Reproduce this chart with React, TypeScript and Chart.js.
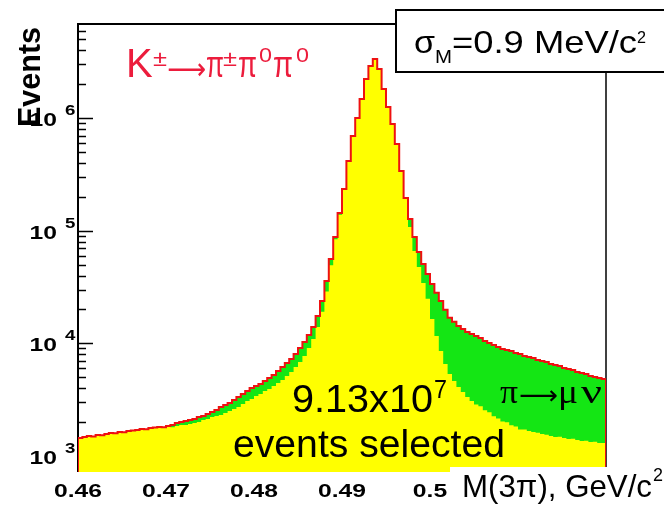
import React, { useEffect, useRef } from 'react';
import { Chart, registerables } from 'chart.js';

Chart.register(...registerables);

// ---- data ----
const binStart = 0.46;
const binWidth = 0.0005; // GeV/c^2 per bin

// total selected events (K -> 3pi incl. pi -> mu nu), per bin
const totalCounts = [
  1445, 1475, 1505, 1490, 1536, 1530, 1568, 1601, 1590, 1634,
  1620, 1668, 1680, 1702, 1737, 1725, 1773, 1790, 1810, 1800,
  1847, 1885, 1964, 2005, 2046, 2088, 2131, 2220, 2266, 2361,
  2460, 2562, 2724, 2838, 2957, 3144, 3343, 3554, 3779, 4018,
  4185, 4360, 4636, 4929, 5241, 5687, 6172, 6698, 7269, 8051,
  9103, 10290, 11880, 13980, 17520, 23800, 35840, 56200, 88100, 143900,
  235100, 417000, 695000, 1004000, 1481000, 2229000, 2908000, 3356000, 2735000, 1817000,
  1257000, 888000, 590000, 340000, 195600, 127300, 88100, 64800, 50700, 41300,
  33700, 28100, 23800, 19840, 16880, 15540, 14270, 13430, 12620, 12120,
  11640, 11170, 10500, 10080, 9679, 9290, 8918, 8738, 8560, 8217,
  8051, 7729, 7572, 7419, 7121, 6977, 6836, 6562, 6430, 6300,
  6047, 5925, 5805, 5573, 5460, 5349, 5135, 5031, 4929, 4829,
];

// K -> pi pi0 pi0 events without pion decay (yellow), per bin
const signalCounts = [
  1445, 1475, 1505, 1490, 1536, 1530, 1568, 1601, 1590, 1634,
  1620, 1668, 1680, 1702, 1737, 1725, 1773, 1790, 1810, 1800,
  1810, 1800, 1847, 1885, 1880, 1924, 1964, 2005, 2088, 2131,
  2220, 2266, 2314, 2410, 2510, 2615, 2724, 2897, 3080, 3209,
  3411, 3554, 3779, 3937, 4185, 4450, 4732, 5135, 5573, 6172,
  6836, 7729, 9103, 10940, 13980, 19040, 28900, 49500, 84000, 139000,
  232000, 415000, 695000, 1004000, 1481000, 2229000, 2908000, 3356000, 2735000, 1817000,
  1257000, 888000, 590000, 340000, 195600, 108100, 66200, 47700, 34400, 24850,
  16470, 11640, 8560, 6562, 5349, 4636, 4101, 3702, 3343, 3080,
  2870, 2760, 2540, 2440, 2250, 2150, 2020, 1990, 1870, 1830,
  1720, 1715, 1668, 1634, 1610, 1568, 1540, 1505, 1475, 1480,
  1445, 1416, 1420, 1387, 1359, 1365, 1331, 1335, 1304, 1300,
];

const xTickValues = [0.46, 0.47, 0.48, 0.49, 0.5, 0.51, 0.52];
const xTickLabels = ['0.46', '0.47', '0.48', '0.49', '0.5', '0.51', '0.52'];
const yDecadeExponents = [3, 4, 5, 6];
const yMin = 720;
const yMax = 6.86e6;
const xMin = 0.46;
const xMax = 0.52;

const SANS = '"Liberation Sans", Arial, Helvetica, sans-serif';
const SERIF = '"Liberation Serif", "Times New Roman", serif';
const ARROW = '"DejaVu Sans", sans-serif';

const font = (size: number, bold = false, family = SANS) => `${bold ? 'bold ' : ''}${size}px ${family}`;

// draw a text run at (x, baseline); optionally stretch it horizontally to a target width
function drawAt(
  ctx: CanvasRenderingContext2D,
  text: string,
  x: number,
  baseline: number,
  f: string,
  color: string,
  targetWidth?: number | null,
  fixedScale?: number,
) {
  ctx.save();
  ctx.font = f;
  const w = ctx.measureText(text).width;
  const sx = fixedScale ?? (targetWidth ? targetWidth / w : 1);
  ctx.translate(x, baseline);
  ctx.scale(sx, 1);
  ctx.fillStyle = color;
  ctx.textAlign = 'left';
  ctx.textBaseline = 'alphabetic';
  ctx.fillText(text, 0, 0);
  ctx.restore();
  return w * sx;
}

const framePlugin = {
  id: 'rootFrame',
  beforeDatasetsDraw(chart: any) {
    const ctx: CanvasRenderingContext2D = chart.ctx;
    const { left, right, top, bottom } = chart.chartArea;
    const ys = chart.scales.y;
    ctx.save();
    ctx.strokeStyle = '#000';
    ctx.lineWidth = 1.5;
    for (let k = 2; k <= 6; k++) {
      for (let m = 1; m <= 9; m++) {
        const v = m * Math.pow(10, k);
        if (v < yMin || v > yMax) continue;
        const py = Math.round(ys.getPixelForValue(v)) + 0.5;
        const len = m === 1 ? 15 : 8;
        ctx.beginPath();
        ctx.moveTo(left, py);
        ctx.lineTo(left + len, py);
        ctx.stroke();
      }
    }
    ctx.lineWidth = 2;
    ctx.beginPath();
    ctx.moveTo(left, bottom);
    ctx.lineTo(left, top);
    ctx.lineTo(right, top);
    ctx.stroke();
    ctx.lineWidth = 1.5;
    ctx.beginPath();
    ctx.moveTo(right, top);
    ctx.lineTo(right, bottom);
    ctx.stroke();
    ctx.restore();
  },
  afterDraw(chart: any) {
    const ctx: CanvasRenderingContext2D = chart.ctx;
    const xs = chart.scales.x;
    const ys = chart.scales.y;

    const labFont = font(18.5, true);
    ctx.save();
    ctx.font = labFont;
    const sxLab = 48 / ctx.measureText('0.46').width;
    ctx.restore();

    // x tick labels
    xTickValues.forEach((v, i) => {
      const px = xs.getPixelForValue(v);
      ctx.save();
      ctx.font = labFont;
      const w = ctx.measureText(xTickLabels[i]).width * sxLab;
      ctx.restore();
      drawAt(ctx, xTickLabels[i], px - w / 2, 497, labFont, '#000', null, sxLab);
    });

    // y tick labels 10^k
    yDecadeExponents.forEach((k) => {
      const py = ys.getPixelForValue(Math.pow(10, k));
      drawAt(ctx, '10', 29.5, py + 8, labFont, '#000', null, sxLab);
      drawAt(ctx, String(k), 65, py - 3, font(14, true), '#000', null, sxLab);
    });

    // y axis title
    ctx.save();
    ctx.translate(40, 77);
    ctx.rotate(-Math.PI / 2);
    drawAt(ctx, 'Events', -50, 0, font(31, true), '#000', 100);
    ctx.restore();

    // decay label
    const red = '#ec1c3c';
    drawAt(ctx, 'K', 126, 77, font(40), red);
    drawAt(ctx, '±', 153, 66, font(22), red, 14);
    drawAt(ctx, '⟶', 167, 79, font(30, false, ARROW), red, 39);
    drawAt(ctx, 'π', 206, 77, font(36), red, 18);
    drawAt(ctx, '±', 223, 66, font(22), red, 14);
    drawAt(ctx, 'π', 238, 77, font(36), red, 19);
    drawAt(ctx, '0', 259, 62, font(21), red, 13);
    drawAt(ctx, 'π', 273, 77, font(36), red, 20);
    drawAt(ctx, '0', 296, 62, font(21), red, 13);

    // sigma box
    ctx.save();
    ctx.fillStyle = '#fff';
    ctx.fillRect(396, 10, 280, 62);
    ctx.strokeStyle = '#000';
    ctx.lineWidth = 2;
    ctx.strokeRect(396, 10, 280, 62);
    ctx.restore();
    drawAt(ctx, 'σ', 414, 53, font(32), '#000', 21);
    drawAt(ctx, 'M', 435, 63, font(19), '#000', 17);
    drawAt(ctx, '=0.9 MeV/c', 452, 53, font(32), '#000', 185);
    drawAt(ctx, '2', 637, 43, font(17), '#000', 9);

    // statistics text
    const w9 = drawAt(ctx, '9.13x10', 292, 412, font(39), '#000', 141);
    drawAt(ctx, '7', 292 + w9 + 1, 398, font(25), '#000', 13);
    drawAt(ctx, 'events selected', 233, 457, font(39), '#000', 272);

    // pi -> mu nu label
    drawAt(ctx, 'π', 500, 403, font(33, false, SERIF), '#000', 18);
    drawAt(ctx, '⟶', 519, 404, font(26, false, ARROW), '#000', 39);
    drawAt(ctx, 'μ', 558, 403, font(33, false, SERIF), '#000', 20);
    drawAt(ctx, 'ν', 581, 403, font(33, false, SERIF), '#000', 21);

    // x axis title in white box
    ctx.save();
    ctx.fillStyle = '#fff';
    ctx.fillRect(450, 467, 230, 50);
    ctx.restore();
    drawAt(ctx, 'M(3π), GeV/c', 462, 497, font(32), '#000', 190);
    drawAt(ctx, '2', 653, 481, font(18), '#000', 10);
  },
};

function toSteps(arr: number[]) {
  const pts = arr.map((v, i) => ({ x: binStart + i * binWidth, y: v }));
  pts.push({ x: binStart + arr.length * binWidth, y: arr[arr.length - 1] });
  return pts;
}

export default function App() {
  const ref = useRef<HTMLCanvasElement | null>(null);
  useEffect(() => {
    if (!ref.current) return;
    const totalSteps = toSteps(totalCounts);
    const outline = [
      { x: binStart, y: yMin },
      ...totalSteps,
      { x: binStart + totalCounts.length * binWidth, y: yMin },
    ];
    const chart = new Chart(ref.current, {
      type: 'line',
      data: {
        datasets: [
          {
            label: 'all selected',
            data: outline,
            borderColor: '#ee1111',
            borderWidth: 2,
            fill: false,
            stepped: true,
            pointRadius: 0,
          },
          {
            label: 'K± → π±π0π0',
            data: toSteps(signalCounts),
            borderColor: 'rgba(0,0,0,0)',
            backgroundColor: '#ffff00',
            borderWidth: 0,
            fill: 'start',
            stepped: true,
            pointRadius: 0,
          },
          {
            label: 'π → μν',
            data: totalSteps,
            borderColor: 'rgba(0,0,0,0)',
            backgroundColor: '#14e614',
            borderWidth: 0,
            fill: 'start',
            stepped: true,
            pointRadius: 0,
          },
        ],
      } as any,
      options: {
        responsive: false,
        animation: false,
        events: [],
        layout: { padding: { left: 78, top: 24, right: 58, bottom: 38 } },
        plugins: { legend: { display: false }, tooltip: { enabled: false } },
        scales: {
          x: { type: 'linear', min: xMin, max: xMax, display: false },
          y: { type: 'logarithmic', min: yMin, max: yMax, display: false },
        },
      } as any,
      plugins: [framePlugin],
    });
    return () => chart.destroy();
  }, []);
  return (
    <div style={{ position: 'fixed', left: 0, top: 0, width: 664, height: 510, background: '#fff' }}>
      <canvas ref={ref} width={664} height={510} style={{ display: 'block' }} />
    </div>
  );
}
